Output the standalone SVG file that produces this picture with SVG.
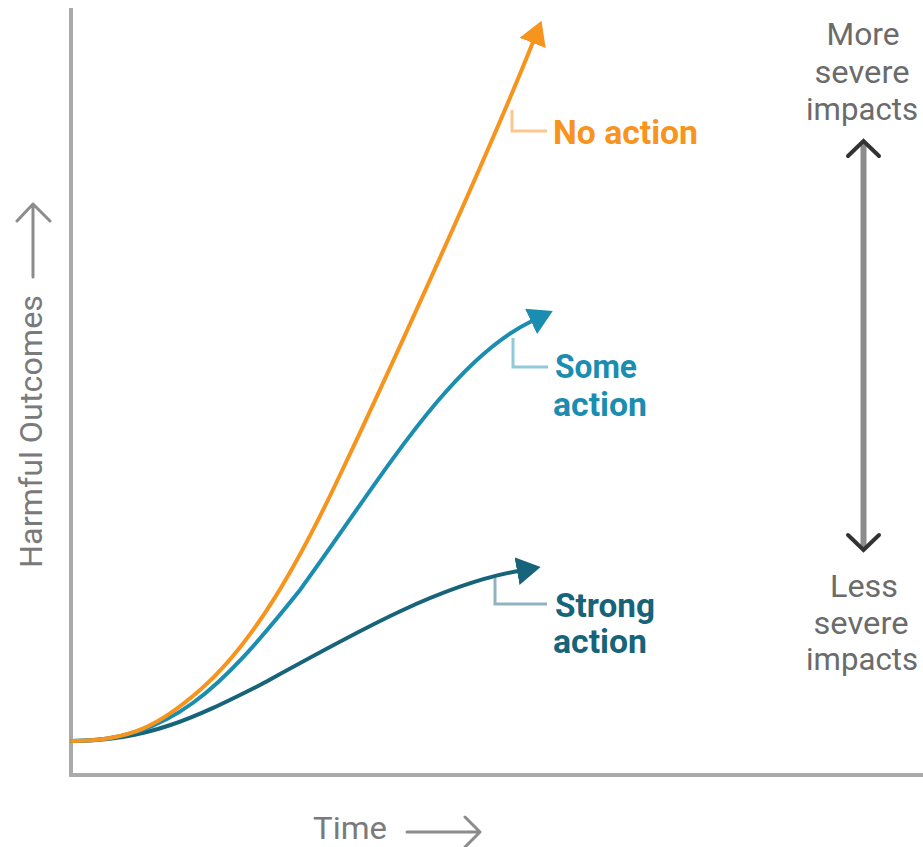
<svg xmlns="http://www.w3.org/2000/svg" width="923" height="847" viewBox="0 0 923 847">
<style>
.axis{stroke:#aaaaaa;stroke-width:4;fill:none}
.curve{fill:none;stroke-width:4;stroke-linecap:round}
.bracket{fill:none;stroke-width:3}
.lbl{font-family:Roboto,"Liberation Sans",sans-serif;font-weight:bold;font-size:34px}
.side{font-family:Roboto,"Liberation Sans",sans-serif;font-size:32px;fill:#6b6b6b;text-anchor:middle}
.ax{font-family:Roboto,"Liberation Sans",sans-serif;font-size:31px;fill:#7a7a7a}
.gray{fill:none;stroke:#8c8c8c;stroke-width:3;stroke-linecap:round;stroke-linejoin:round}
.chev{fill:none;stroke:#333333;stroke-width:4;stroke-linecap:round;stroke-linejoin:miter}
</style>
<defs>
<marker id="ahO" viewBox="0 0 24 28" markerWidth="24" markerHeight="28" markerUnits="userSpaceOnUse" refX="1" refY="14" orient="auto"><path d="M0,0 L24,14 L0,28 z" fill="#f7941d"/></marker>
<marker id="ahS" viewBox="0 0 24 28" markerWidth="24" markerHeight="28" markerUnits="userSpaceOnUse" refX="1" refY="14" orient="auto"><path d="M0,0 L24,14 L0,28 z" fill="#1a8db0"/></marker>
<marker id="ahT" viewBox="0 0 24 28" markerWidth="24" markerHeight="28" markerUnits="userSpaceOnUse" refX="1" refY="14" orient="auto"><path d="M0,0 L24,14 L0,28 z" fill="#17647a"/></marker>
</defs>
<rect width="923" height="847" fill="#ffffff"/>
<g id="axes">
<path class="axis" d="M71,8 L71,775 L923,775"/>
</g>
<g id="y-label">
<text class="ax" transform="translate(42,568) rotate(-90)" textLength="273" lengthAdjust="spacingAndGlyphs">Harmful Outcomes</text>
<path class="gray" d="M33,277 L33,204 M17,221 L33,204 L50,221"/>
</g>
<g id="x-label">
<text class="ax" x="313" y="839" textLength="74" lengthAdjust="spacingAndGlyphs">Time</text>
<path class="gray" d="M407,832 L480,832 M465,817 L480,832 L465,847"/>
</g>
<g id="connectors">
<path class="curve" stroke="#17647a" marker-end="url(#ahT)" d="M72,741 C150,741 200,715 260,685 C360,630 440,585 518,571"/>
<path class="curve" stroke="#1a8db0" marker-end="url(#ahS)" d="M72,741 C170,741 220,690 300,590 C380,480 450,360 532,321"/>
<path class="curve" stroke="#f7941d" marker-end="url(#ahO)" d="M72,741 C130,741 160,725 200,690 C255,642 300,560 340,475 C390,370 490,150 533,42"/>
</g>
<g id="no-action">
<path class="bracket" stroke="#fcc68c" d="M512,110 L512,131 L547,131"/>
<text class="lbl" fill="#f7941d" x="553" y="144" textLength="145" lengthAdjust="spacingAndGlyphs">No action</text>
</g>
<g id="some-action">
<path class="bracket" stroke="#8fcadb" d="M513,338 L513,367 L548,367"/>
<text class="lbl" fill="#1a8db0" x="555" y="378" textLength="82" lengthAdjust="spacingAndGlyphs">Some</text>
<text class="lbl" fill="#1a8db0" x="553" y="416" textLength="94" lengthAdjust="spacingAndGlyphs">action</text>
</g>
<g id="strong-action">
<path class="bracket" stroke="#8fb4bf" d="M495,578 L495,604 L547,604"/>
<text class="lbl" fill="#17647a" x="555" y="617" textLength="100" lengthAdjust="spacingAndGlyphs">Strong</text>
<text class="lbl" fill="#17647a" x="553" y="653" textLength="94" lengthAdjust="spacingAndGlyphs">action</text>
</g>
<g id="severity-scale">
<text class="side" x="863" y="45" textLength="73" lengthAdjust="spacingAndGlyphs">More</text>
<text class="side" x="862" y="83" textLength="95" lengthAdjust="spacingAndGlyphs">severe</text>
<text class="side" x="862" y="120" textLength="112" lengthAdjust="spacingAndGlyphs">impacts</text>
<line x1="863.5" y1="143" x2="863.5" y2="547" stroke="#8c8c8c" stroke-width="6"/>
<path class="chev" d="M848,156 L863.5,141 L879,156"/>
<path class="chev" d="M848,535 L863.5,550 L879,535"/>
<text class="side" x="864" y="597" textLength="68" lengthAdjust="spacingAndGlyphs">Less</text>
<text class="side" x="861" y="634" textLength="95" lengthAdjust="spacingAndGlyphs">severe</text>
<text class="side" x="862" y="670" textLength="112" lengthAdjust="spacingAndGlyphs">impacts</text>
</g>
</svg>
